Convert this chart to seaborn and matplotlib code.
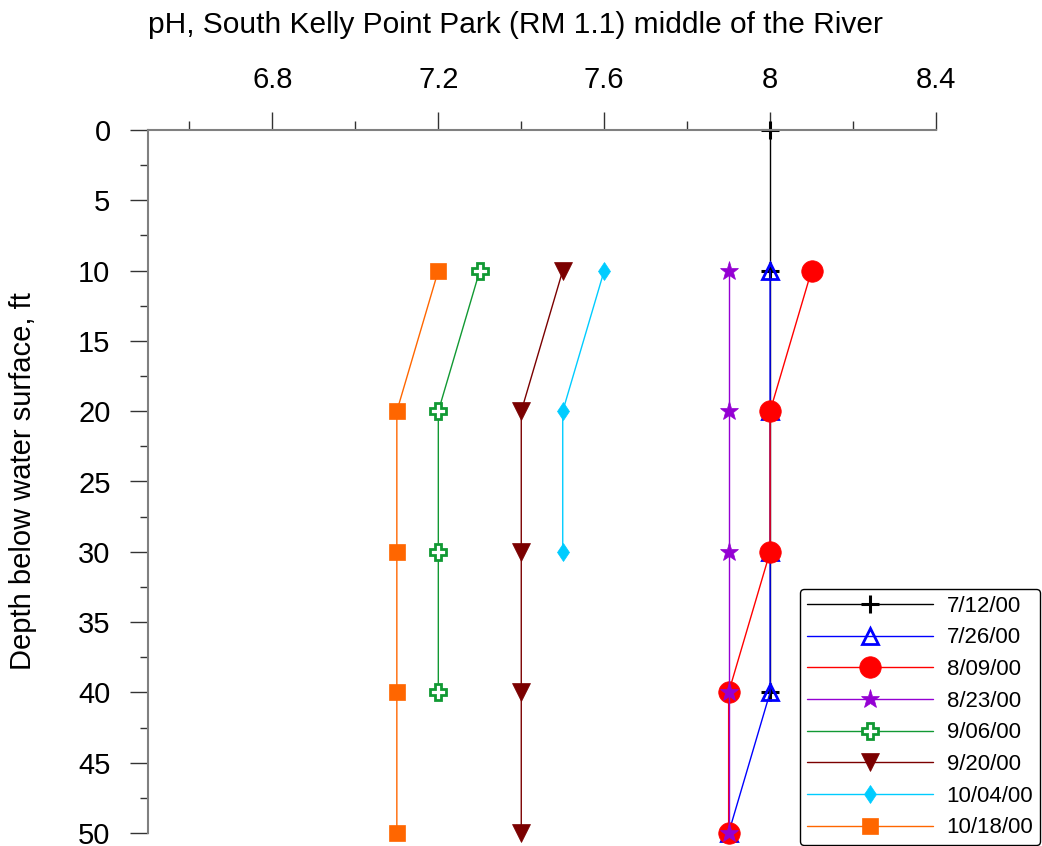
import numpy as np
import pandas as pd
import seaborn as sns
import matplotlib.pyplot as plt
from matplotlib.ticker import MultipleLocator, FixedLocator

# dates sampled and their pH profiles (depth in ft -> pH)
dates = ["7/12/00", "7/26/00", "8/09/00", "8/23/00", "9/06/00", "9/20/00", "10/04/00", "10/18/00"]
depth_7_12 = [0, 10, 20, 30, 40]
ph_7_12 = [8.0, 8.0, 8.0, 8.0, 8.0]
depth_7_26 = [10, 20, 30, 40, 50]
ph_7_26 = [8.0, 8.0, 8.0, 8.0, 7.9]
depth_8_09 = [10, 20, 30, 40, 50]
ph_8_09 = [8.1, 8.0, 8.0, 7.9, 7.9]
depth_8_23 = [10, 20, 30, 40, 50]
ph_8_23 = [7.9, 7.9, 7.9, 7.9, 7.9]
depth_9_06 = [10, 20, 30, 40]
ph_9_06 = [7.3, 7.2, 7.2, 7.2]
depth_9_20 = [10, 20, 30, 40, 50]
ph_9_20 = [7.5, 7.4, 7.4, 7.4, 7.4]
depth_10_04 = [10, 20, 30]
ph_10_04 = [7.6, 7.5, 7.5]
depth_10_18 = [10, 20, 30, 40, 50]
ph_10_18 = [7.2, 7.1, 7.1, 7.1, 7.1]

depths = [depth_7_12, depth_7_26, depth_8_09, depth_8_23, depth_9_06, depth_9_20, depth_10_04, depth_10_18]
phs = [ph_7_12, ph_7_26, ph_8_09, ph_8_23, ph_9_06, ph_9_20, ph_10_04, ph_10_18]

# marker styles per series
styles = [
    dict(color="black", marker="+", ms=13, mfc="black", mec="black", mew=2.2),
    dict(color="#0000ff", marker="^", ms=12, mfc="none", mec="#0000ff", mew=2),
    dict(color="#ff0000", marker="o", ms=15.5, mfc="#ff0000", mec="#ff0000", mew=0.5),
    dict(color="#9400d3", marker="*", ms=14, mfc="#9400d3", mec="#9400d3", mew=0.5),
    dict(color="#119933", marker="P", ms=12, mfc="white", mec="#119933", mew=2),
    dict(color="#7b0000", marker="v", ms=13, mfc="#7b0000", mec="#7b0000", mew=0.5),
    dict(color="#00ccff", marker="d", ms=9.5, mfc="#00ccff", mec="#00ccff", mew=0.5),
    dict(color="#ff6600", marker="s", ms=12, mfc="#ff6600", mec="#ff6600", mew=0.5),
]

sns.set_style("ticks")
plt.rcParams["font.family"] = ["Liberation Sans", "DejaVu Sans"]
plt.rcParams["text.color"] = "black"
plt.rcParams["xtick.labelcolor"] = "black"
plt.rcParams["ytick.labelcolor"] = "black"

fig = plt.figure(figsize=(10.42, 8.46), dpi=100)
ax = fig.add_axes([148 / 1042, 1 - 833 / 846, (936 - 148) / 1042, (833 - 130) / 846])

for date, d, p, st in zip(dates, depths, phs, styles):
    df = pd.DataFrame({"pH": p, "depth": d})
    sns.lineplot(data=df, x="pH", y="depth", orient="y", sort=True, estimator=None,
                 ax=ax, label=date, color=st["color"], linewidth=1,
                 marker=st["marker"], markersize=st["ms"],
                 markerfacecolor=st["mfc"], markeredgecolor=st["mec"],
                 markeredgewidth=st["mew"], clip_on=False)

ax.set_xlim(6.5, 8.4)
ax.set_ylim(50, 0)
ax.xaxis.set_major_locator(FixedLocator([6.8, 7.2, 7.6, 8.0, 8.4]))
ax.xaxis.set_minor_locator(FixedLocator([6.6, 7.0, 7.4, 7.8, 8.2]))
ax.set_xticklabels(["6.8", "7.2", "7.6", "8", "8.4"])
ax.yaxis.set_major_locator(MultipleLocator(5))
ax.yaxis.set_minor_locator(MultipleLocator(2.5))
ax.xaxis.tick_top()
ax.xaxis.set_label_position("top")
ax.set_xlabel("")

for s in ["right", "bottom"]:
    ax.spines[s].set_visible(False)
for s in ["left", "top"]:
    ax.spines[s].set_color("#808080")
    ax.spines[s].set_linewidth(1.5)

ax.tick_params(axis="x", which="major", direction="out", length=13, width=1, color="#333333",
               labelsize=21, pad=13, top=True, bottom=False)
ax.tick_params(axis="x", which="minor", direction="out", length=6.5, width=1, color="#333333",
               top=True, bottom=False)
ax.tick_params(axis="y", which="major", direction="out", length=13, width=1, color="#333333",
               labelsize=21, pad=14)
ax.tick_params(axis="y", which="minor", direction="out", length=6, width=1, color="#333333")

ax.set_ylabel("Depth below water surface, ft", fontsize=21, color="black")
ax.yaxis.set_label_coords(-0.141, 0.5)

fig.text(515 / 1042, 1 - 25 / 846, "pH, South Kelly Point Park (RM 1.1) middle of the River",
         fontsize=21.5, ha="center", va="center", color="black")

leg = ax.legend(loc="lower right", bbox_to_anchor=(1040 / 1042, 1 / 846),
                bbox_transform=fig.transFigure, fontsize=16, frameon=True, fancybox=True,
                handlelength=5.7, handletextpad=0.6, labelspacing=0.48, borderpad=0.3,
                borderaxespad=0)
leg.get_frame().set_edgecolor("black")
leg.get_frame().set_linewidth(1)
leg.get_frame().set_alpha(1)

fig.savefig("out.png", dpi=100)
